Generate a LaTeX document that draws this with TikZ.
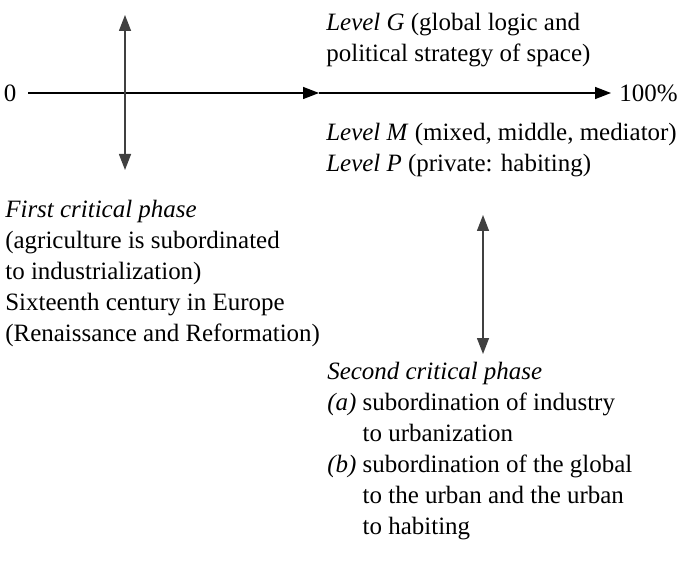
\documentclass[tikz,border=0pt]{standalone}
\usepackage{fontspec}
\setmainfont{Liberation Serif}
\usetikzlibrary{arrows.meta}

\tikzset{
  txt/.style={anchor=north west, inner sep=0pt, align=left,
    font=\fontsize{14.2pt}{17.65pt}\selectfont},
  axis/.style={thick, -{Triangle[length=0.32cm, width=0.24cm]}},
  twoway/.style={thick, black!75,
    {Triangle[length=0.32cm, width=0.24cm]}-{Triangle[length=0.32cm, width=0.24cm]}}
}
\newcommand{\hang}{\hphantom{\textit{(a)} }}

\begin{document}
\begin{tikzpicture}
  \useasboundingbox (0, 0) rectangle (13.58, 11.4);

  % Axis
  \node [inner sep=1pt, font=\fontsize{14.2pt}{17.65pt}\selectfont] (zero) at (0.2, 9.54) {0};
  \node [anchor=west, inner sep=0pt, font=\fontsize{14.2pt}{17.65pt}\selectfont] (full) at (12.38, 9.54) {100\%};
  \coordinate (mid) at (6.38, 9.54);
  \draw [axis] (zero.east) ++(0.2, 0) coordinate (start) -- (mid);
  \draw [axis] (mid) -- ([xshift=-0.16cm]full.west);

  % Levels
  \node [txt] (levelg) at (6.52, 11.15)
    {\textit{Level G} (global logic and\\political strategy of space)};
  \node [txt] (levelm) at (6.52, 8.95)
    {\textit{Level M} (mixed, middle, mediator)\\\textit{Level P} (private: habiting)};

  % First phase
  \coordinate (a1) at (2.5, 11.1);
  \coordinate (a2) at (2.5, 8.0);
  \draw [twoway] (a1) -- (a2);
  \node [txt] (first) at (0.1, 7.41)
    {\textit{First critical phase}\\(agriculture is subordinated\\to industrialization)\\
     Sixteenth century in Europe\\(Renaissance and Reformation)};

  % Second phase
  \coordinate (b1) at (9.66, 7.1);
  \coordinate (b2) at (9.66, 4.32);
  \draw [twoway] (b1) -- (b2);
  \node [txt] (second) at (6.54, 4.17)
    {\textit{Second critical phase}\\
     \textit{(a)} subordination of industry\\
     \hang to urbanization\\
     \textit{(b)} subordination of the global\\
     \hang to the urban and the urban\\
     \hang to habiting};
\end{tikzpicture}
\end{document}
